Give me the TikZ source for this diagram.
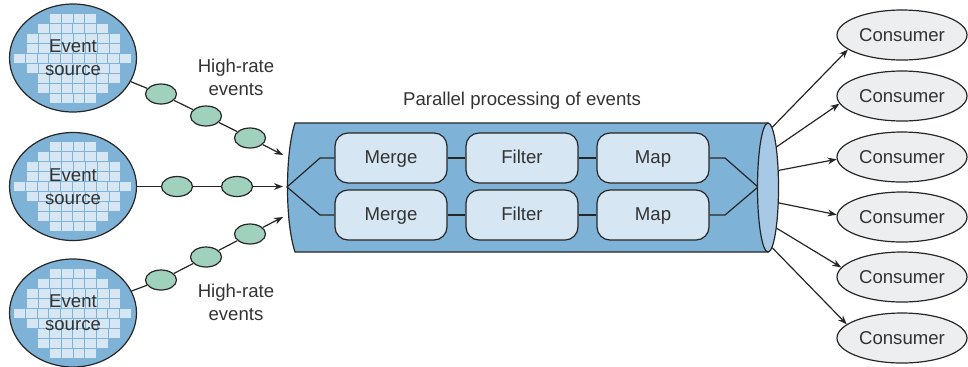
\documentclass[tikz,border=0pt]{standalone}
\usepackage{fontspec}
\setmainfont{Liberation Sans}
\usetikzlibrary{shapes.geometric,arrows.meta,calc}
\definecolor{pipeblue}{HTML}{7EB3D7}
\definecolor{capblue}{HTML}{A7C9E5}
\definecolor{boxblue}{HTML}{D6E6F2}
\definecolor{evgreen}{HTML}{9FD1BC}
\definecolor{consgray}{HTML}{EDEEF0}
\definecolor{inkgray}{HTML}{333333}
% ladrilhos claros dentro de uma fonte, recortados pela elipse
\newcommand{\sourcetiles}[1]{%
  \begin{scope}
    \clip (#1) ellipse [x radius=62, y radius=53];
    \foreach \ry/\xs/\n in {-40/-23/4, -30/-35/6, -20/-46/8, -10/-46/8, 0/-59/10,
                            10/-46/8, 20/-35/7, 30/-35/6, 40/-23/4}{
      \foreach \c in {1,...,\n}{
        \fill[boxblue] ($(#1)+({\xs+11.8*(\c-1)},{\ry-4.5})$) rectangle ++(10.8,9);
      }
    }
  \end{scope}}

\begin{document}
\begin{tikzpicture}[x=0.5pt, y=-0.5pt, font=\fontsize{9.3}{11.4}\selectfont, text=inkgray,
  source/.style={ellipse, draw=black!85, line width=0.6pt, fill=pipeblue, minimum width=63.5pt,
    minimum height=54pt, inner sep=0pt},
  event/.style={ellipse, draw=black!85, line width=0.6pt, fill=evgreen, minimum width=15.5pt,
    minimum height=10pt, inner sep=0pt},
  stage/.style={rectangle, rounded corners=6.5pt, draw=black!85, line width=0.6pt, fill=boxblue,
    minimum width=56pt, minimum height=25pt, inner sep=0pt, text height=7.6pt, text depth=1.9pt},
  consumer/.style={ellipse, draw=black!85, line width=0.6pt, fill=consgray, minimum width=65pt,
    minimum height=25pt, inner sep=0pt},
  link/.style={draw=black!85, line width=0.6pt},
  flow/.style={link, -{Stealth[length=4.5pt,width=3.4pt]}}]
  % Tres fontes a esquerda despejam eventos em cadeia no cilindro; dentro dele as duas linhas
  % Merge-Filter-Map correm lado a lado, e a saida abre em leque para os seis consumidores.
  \useasboundingbox (0,0) rectangle (968,366);
  \node[source] (src1) at (73,58) {};
  \node[source] (src2) at (73,186.5) {};
  \node[source] (src3) at (73,313) {};
  \sourcetiles{src1}
  \sourcetiles{src2}
  \sourcetiles{src3}
  \node[align=center] (src1txt) at (src1) {Event\\source};
  \node[align=center] (src2txt) at (src2) {Event\\source};
  \node[align=center] (src3txt) at (src3) {Event\\source};
  \node[event] (ev11) at (161,94) {};
  \node[event] (ev12) at (206,116) {};
  \node[event] (ev13) at (250,138) {};
  \node[event] (ev21) at (177,186.5) {};
  \node[event] (ev22) at (237,186.5) {};
  \node[event] (ev31) at (161,280) {};
  \node[event] (ev32) at (206,257) {};
  \node[event] (ev33) at (250,234) {};
  \node[align=center] (rate1) at (236,77) {High-rate\\events};
  \node[align=center] (rate2) at (236,302) {High-rate\\events};
  \node (title) at (522,101) {Parallel processing of events};
  % corpo do cilindro, a tampa da direita vem depois por cima
  \fill[pipeblue, draw=black!85, line width=0.6pt] (295,123) -- (768,123) -- (768,252) -- (295,252)
    .. controls (285,222) and (285,153) .. (295,123) -- cycle;
  \coordinate (in1) at (283,155);
  \coordinate (in2) at (283,186.5);
  \coordinate (in3) at (283,217);
  \coordinate (forkin) at (287,187);
  \coordinate (forkout) at (758,187);
  \draw[link] (src1) -- (ev11) -- (ev12) -- (ev13);
  \draw[link] (src2) -- (ev21) -- (ev22);
  \draw[link] (src3) -- (ev31) -- (ev32) -- (ev33);
  \draw[flow] (ev13) -- (in1);
  \draw[flow] (ev22) -- (in2);
  \draw[flow] (ev33) -- (in3);
  \node[stage] (merge1) at (391,158) {Merge};
  \node[stage] (filter1) at (522,158) {Filter};
  \node[stage] (map1) at (653,158) {Map};
  \node[stage] (merge2) at (391,215) {Merge};
  \node[stage] (filter2) at (522,215) {Filter};
  \node[stage] (map2) at (653,215) {Map};
  \draw[link] (merge1) -- (filter1) -- (map1);
  \draw[link] (merge2) -- (filter2) -- (map2);
  \draw[link] (merge1.west) -- (320,158) -- (forkin) -- (320,215) -- (merge2.west);
  \draw[link] (map1.east) -- (725,158) -- (forkout) -- (725,215) -- (map2.east);
  \node[ellipse, draw=black!85, line width=0.6pt, fill=capblue, minimum width=10.5pt,
    minimum height=64.5pt, inner sep=0pt] (cap) at (768,187.5) {};
  \node[consumer] (con1) at (902,35) {Consumer};
  \node[consumer] (con2) at (902,96) {Consumer};
  \node[consumer] (con3) at (902,157) {Consumer};
  \node[consumer] (con4) at (902,217) {Consumer};
  \node[consumer] (con5) at (902,277) {Consumer};
  \node[consumer] (con6) at (902,338) {Consumer};
  \draw[flow] (cap.86) -- (con1.195);
  \draw[flow] (cap.78) -- (con2.187);
  \draw[flow] (cap.58) -- (con3.182);
  \draw[flow] (cap.-55) -- (con4.178);
  \draw[flow] (cap.-78) -- (con5.171);
  \draw[flow] (cap.-86) -- (con6.166);
\end{tikzpicture}
\end{document}
